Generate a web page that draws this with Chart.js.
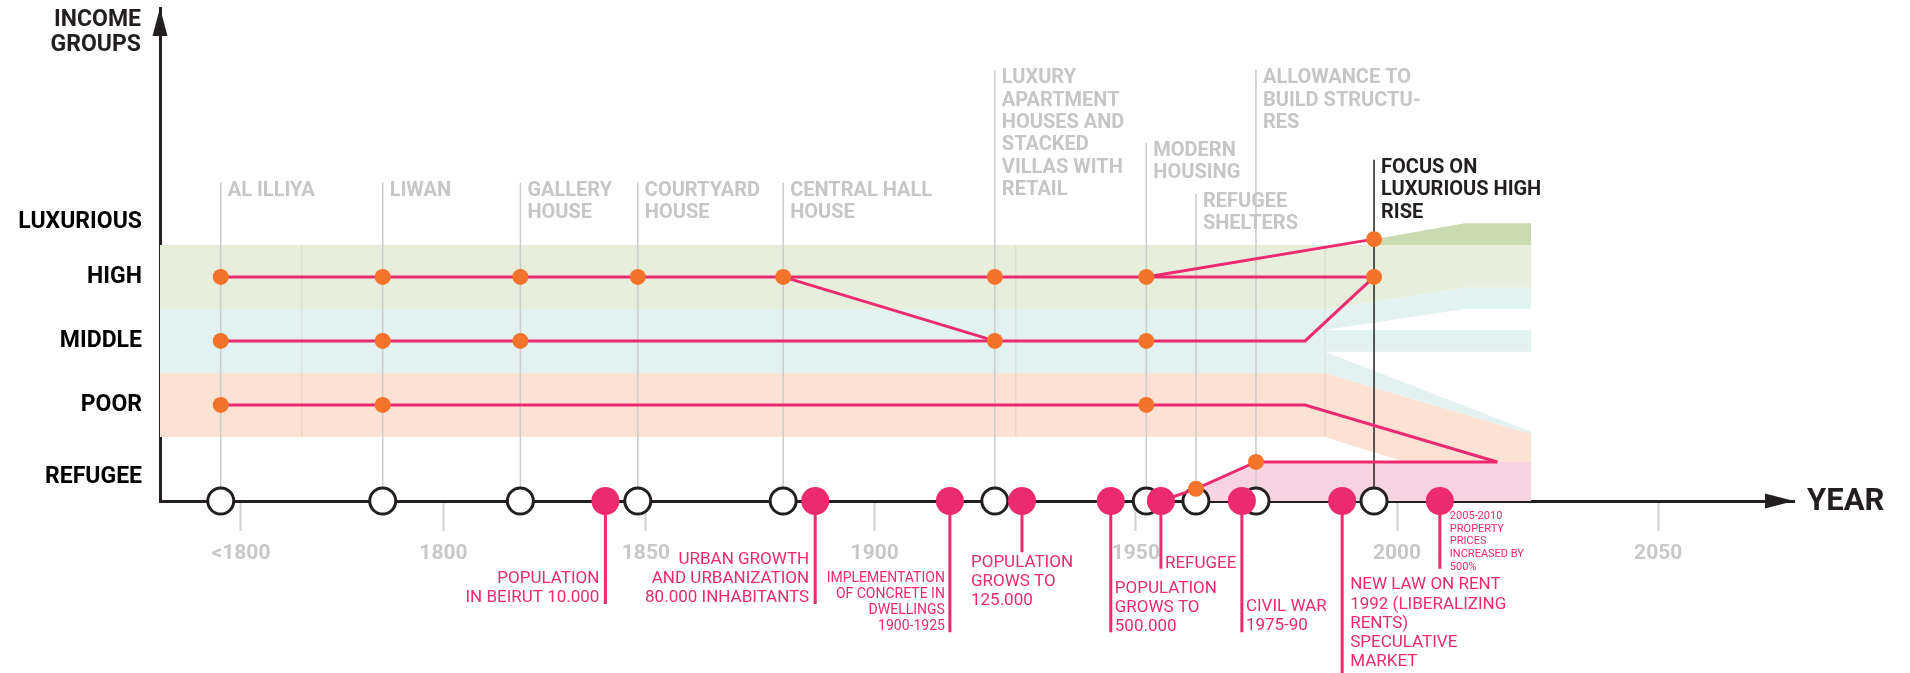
<!DOCTYPE html>
<html>
<head>
<meta charset="utf-8">
<script src="https://cdn.jsdelivr.net/npm/chart.js@4.4.1/dist/chart.umd.min.js"></script>
<style>
  html, body { margin: 0; padding: 0; background: #fff; }
  #wrap { width: 1910px; height: 673px; position: relative; }
</style>
</head>
<body>
<div id="wrap"><canvas id="myChart"></canvas></div>
<script>
// timeline ticks
const tickYears = [1750, 1800, 1850, 1900, 1950, 2000, 2050];
const tickLabels = ['<1800', '1800', '1850', '1900', '1950', '2000', '2050'];

// income groups on the y axis
const groupNames = ['REFUGEE', 'POOR', 'MIDDLE', 'HIGH', 'LUXURIOUS'];
const groupLevels = [0.375, 1.5, 2.5, 3.5, 4.36];

// housing types (open circles)
const housingYears = [1745, 1785, 1819, 1848, 1880, 1923, 1952, 1961.5, 1973];
const housingNames = [
    ['AL ILLIYA'], ['LIWAN'], ['GALLERY', 'HOUSE'], ['COURTYARD', 'HOUSE'], ['CENTRAL HALL', 'HOUSE'],
    ['LUXURY', 'APARTMENT', 'HOUSES AND', 'STACKED', 'VILLAS WITH', 'RETAIL'],
    ['MODERN', 'HOUSING'], ['REFUGEE', 'SHELTERS'], ['ALLOWANCE TO', 'BUILD STRUCTU-', 'RES']
];
const housingTop = [4.97, 4.97, 4.97, 4.97, 4.97, 6.73, 5.59, 4.8, 6.73];
const focusYear = 1995.6;
const focusName = ['FOCUS ON', 'LUXURIOUS HIGH', 'RISE'];
const focusTop = 5.33;

// events (pink circles)
const eventYears = [1840, 1887, 1914.4, 1928.2, 1945.2, 1954.8, 1970.3, 1989.5, 2008.2];
const eventNames = [
    ['POPULATION', 'IN BEIRUT 10.000'],
    ['URBAN GROWTH', 'AND URBANIZATION', '80.000 INHABITANTS'],
    ['IMPLEMENTATION', 'OF CONCRETE IN', 'DWELLINGS', '1900-1925'],
    ['POPULATION', 'GROWS TO', '125.000'],
    ['POPULATION', 'GROWS TO', '500.000'],
    ['REFUGEE'],
    ['CIVIL WAR', '1975-90'],
    ['NEW LAW ON RENT', '1992 (LIBERALIZING', 'RENTS)', 'SPECULATIVE', 'MARKET'],
    ['2005-2010', 'PROPERTY', 'PRICES', 'INCREASED BY', '500%']
];
const eventStemEnd = [-1.61, -1.61, -2.05, -0.8, -2.05, -1.06, -2.05, -2.8, -1.06];

// income group paths
const highX = [1745, 1785, 1819, 1848, 1880, 1923, 1952, 1995.6];
const highY = [3.5, 3.5, 3.5, 3.5, 3.5, 3.5, 3.5, 3.5];
const dropX = [1880, 1923];
const dropY = [3.5, 2.5];
const middleX = [1745, 1785, 1819, 1923, 1952, 1982.4, 1995.6];
const middleY = [2.5, 2.5, 2.5, 2.5, 2.5, 2.5, 3.5];
const poorX = [1745, 1785, 1952, 1982.4, 2019.2];
const poorY = [1.5, 1.5, 1.5, 1.5, 0.61];
const luxX = [1952, 1995.6];
const luxY = [3.5, 4.09];
const refugeeX = [1954.8, 1961.5, 1973, 2019.2];
const refugeeY = [0, 0.19, 0.61, 0.61];

// orange dots
const dotX = [1745, 1785, 1819, 1848, 1880, 1923, 1952, 1995.6,
    1745, 1785, 1819, 1923, 1952, 1745, 1785, 1952, 1995.6, 1961.5, 1973];
const dotY = [3.5, 3.5, 3.5, 3.5, 3.5, 3.5, 3.5, 3.5,
    2.5, 2.5, 2.5, 2.5, 2.5, 1.5, 1.5, 1.5, 4.09, 0.19, 0.61];

// band outlines
const greenX = [1730, 1986.2, 2013, 2025.7];
const greenTop = [4, 4, 4, 4];
const greenBottom = [3, 3, 3.33, 3.33];
const luxBandX = [1995.6, 2013, 2025.7];
const luxBandTop = [4.09, 4.34, 4.34];
const luxBandBottom = [4, 4, 4];
const blueX = [1730, 1986.2];
const blueTop = [3, 3];
const blueBottom = [2, 2];
const blueUpX = [1986.2, 2013, 2025.7];
const blueUpTop = [3, 3.33, 3.33];
const blueUpBottom = [2.67, 3, 3];
const blueMidX = [1986.2, 2025.7];
const blueMidTop = [2.67, 2.67];
const blueMidBottom = [2.33, 2.33];
const blueLowX = [1986.2, 2025.7];
const blueLowTop = [2.33, 1.08];
const blueLowBottom = [2, 1.05];
const orangeX = [1730, 1986.2, 2001.5, 2025.7];
const orangeTop = [2, 2, 1.63, 1.05];
const orangeBottom = [1, 1, 0.61, 0.61];
const pinkX = [1961.5, 1973, 2025.7];
const pinkTop = [0.19, 0.61, 0.61];
const dividerYears = [1765, 1927, 1986.2];

// layout
const axisYears = [1730, 2076];
const tickGaps = [1, 1, 1.13, 1.29, 1.29, 1.29]; // relative width of each tick interval
const eventLabelLayout = [
    { align: 'right', dx: -6, dy: 78, size: 17, lh: 19 },
    { align: 'right', dx: -6, dy: 59, size: 17, lh: 19 },
    { align: 'right', dx: -5, dy: 77, size: 14, lh: 16 },
    { align: 'left', dx: -51, dy: 62, size: 17, lh: 19 },
    { align: 'left', dx: 4, dy: 88, size: 17, lh: 19 },
    { align: 'left', dx: 4, dy: 63, size: 17, lh: 19 },
    { align: 'left', dx: 4, dy: 106, size: 17, lh: 18.5 },
    { align: 'left', dx: 8, dy: 84, size: 17, lh: 19.3 },
    { align: 'left', dx: 10, dy: 15, size: 11, lh: 12.8 }
];

const ink = '#231f20';
const pink = '#ec2a70';
const orange = '#f3732a';
const grey = '#c6c6c6';

function yearToPos(yr) {
    let i = 0;
    while (i < tickGaps.length - 1 && yr > tickYears[i + 1]) i++;
    let p = 0;
    for (let k = 0; k < i; k++) p += tickGaps[k];
    return p + (yr - tickYears[i]) / (tickYears[i + 1] - tickYears[i]) * tickGaps[i];
}

function pts(xs, ys) {
    return xs.map((x, i) => ({ x: yearToPos(x), y: ys[i] }));
}

function band(xs, top, bottom, color) {
    return [
        { data: pts(xs, top), fill: '+1', backgroundColor: color, borderWidth: 0, pointRadius: 0, order: 10 },
        { data: pts(xs, bottom), fill: false, borderWidth: 0, pointRadius: 0, order: 10 }
    ];
}

function path(xs, ys) {
    return { data: pts(xs, ys), borderColor: pink, borderWidth: 3, pointRadius: 0, fill: false, order: 4 };
}

function verticals(xs, from, to) {
    const out = [];
    xs.forEach((x, i) => {
        out.push({ x: yearToPos(x), y: from }, { x: yearToPos(x), y: Array.isArray(to) ? to[i] : to }, { x: yearToPos(x), y: null });
    });
    return out;
}

const datasets = [
    ...band(greenX, greenTop, greenBottom, '#e7eedb'),
    ...band(luxBandX, luxBandTop, luxBandBottom, '#cbdbb0'),
    ...band(blueX, blueTop, blueBottom, '#e2f2f1'),
    ...band(blueUpX, blueUpTop, blueUpBottom, '#e2f2f1'),
    ...band(blueMidX, blueMidTop, blueMidBottom, '#e2f2f1'),
    ...band(blueLowX, blueLowTop, blueLowBottom, '#e2f2f1'),
    ...band(orangeX, orangeTop, orangeBottom, '#fbe2d4'),
    { data: pts(pinkX, pinkTop), fill: 'origin', backgroundColor: '#f8d3e1', borderWidth: 0, pointRadius: 0, order: 10 },
    // faint band dividers
    { data: verticals(dividerYears, 1, 4), borderColor: 'rgba(150,140,110,0.12)', borderWidth: 1.5, pointRadius: 0, fill: false, order: 9 },
    // grey guide lines
    { data: verticals(housingYears, 0, housingTop), borderColor: '#cccccc', borderWidth: 1.5, pointRadius: 0, fill: false, order: 8 },
    { data: verticals([focusYear], 0, focusTop), borderColor: ink, borderWidth: 1.5, pointRadius: 0, fill: false, order: 7 },
    // pink stems
    { data: verticals(eventYears, 0, eventStemEnd), borderColor: pink, borderWidth: 3, pointRadius: 0, fill: false, order: 6 },
    // open circles
    { data: pts(housingYears.concat([focusYear]), housingYears.concat([focusYear]).map(() => 0)), showLine: false,
      pointRadius: 13, pointBackgroundColor: '#ffffff', pointBorderColor: ink, pointBorderWidth: 3, order: 5 },
    path(highX, highY), path(dropX, dropY), path(middleX, middleY), path(poorX, poorY),
    path(luxX, luxY), path(refugeeX, refugeeY),
    // orange dots
    { data: pts(dotX, dotY), showLine: false, pointRadius: 8, pointBackgroundColor: orange, pointBorderWidth: 0, order: 3 },
    // pink event circles
    { data: pts(eventYears, eventYears.map(() => 0)), showLine: false, pointRadius: 14,
      pointBackgroundColor: pink, pointBorderWidth: 0, order: 2 }
];
datasets.forEach(d => { d.clip = false; d.tension = 0; });

const annotate = {
    id: 'annotate',
    afterDraw(chart) {
        const ctx = chart.ctx, xs = chart.scales.x, ys = chart.scales.y, a = chart.chartArea;
        ctx.save();
        ctx.fillStyle = ink;
        // arrows
        ctx.beginPath();
        ctx.moveTo(a.left, a.top);
        ctx.lineTo(a.left - 7.5, a.top + 28);
        ctx.lineTo(a.left + 7.5, a.top + 28);
        ctx.closePath();
        ctx.fill();
        ctx.beginPath();
        ctx.moveTo(a.right, a.bottom);
        ctx.lineTo(a.right - 29, a.bottom - 7.5);
        ctx.lineTo(a.right - 29, a.bottom + 7.5);
        ctx.closePath();
        ctx.fill();
        // axis titles
        ctx.textBaseline = 'middle';
        ctx.font = 'bold 23px Roboto';
        ctx.textAlign = 'right';
        ctx.fillText('INCOME', a.left - 19, 20);
        ctx.fillText('GROUPS', a.left - 19, 45);
        ctx.font = 'bold 31px Roboto';
        ctx.textAlign = 'left';
        ctx.fillText('YEAR', a.right + 13, a.bottom + 1);
        // housing labels
        ctx.font = 'bold 20px Roboto';
        const drawHousing = (yr, top, lines, color) => {
            const px = xs.getPixelForValue(yearToPos(yr));
            const py = ys.getPixelForValue(top);
            ctx.fillStyle = color;
            lines.forEach((t, k) => ctx.fillText(t, px + 7, py + 8 + k * 22.4));
        };
        housingYears.forEach((yr, i) => drawHousing(yr, housingTop[i], housingNames[i], grey));
        drawHousing(focusYear, focusTop, focusName, ink);
        // event labels
        ctx.fillStyle = pink;
        eventYears.forEach((yr, i) => {
            const L = eventLabelLayout[i];
            const px = xs.getPixelForValue(yearToPos(yr));
            ctx.font = L.size + 'px Roboto';
            ctx.textAlign = L.align;
            eventNames[i].forEach((t, k) => ctx.fillText(t, px + L.dx, a.bottom + L.dy + k * L.lh));
        });
        ctx.restore();
    }
};

function noScalePadding(s) {
    s.paddingTop = 0; s.paddingBottom = 0; s.paddingLeft = 0; s.paddingRight = 0;
}

const ctx = document.getElementById('myChart').getContext('2d');
const myChart = new Chart(ctx, {
    type: 'line',
    data: { datasets: datasets },
    options: {
        responsive: true,
        maintainAspectRatio: false,
        animation: false,
        events: [],
        layout: { autoPadding: false, padding: { top: 8, right: 116, bottom: 0, left: 0 } },
        plugins: {
            legend: { display: false },
            tooltip: { enabled: false },
            filler: { drawTime: 'beforeDatasetsDraw' }
        },
        scales: {
            x: {
                type: 'linear',
                min: yearToPos(axisYears[0]),
                max: yearToPos(axisYears[1]),
                afterBuildTicks: (s) => { s.ticks = tickYears.map(y => ({ value: yearToPos(y) })); },
                afterFit: (s) => { s.height = 172; noScalePadding(s); },
                border: { display: true, color: ink, width: 3 },
                grid: { drawOnChartArea: false, drawTicks: true, tickLength: 30, tickColor: '#d0d0d0', tickWidth: 2 },
                ticks: {
                    autoSkip: false, maxRotation: 0, padding: 10,
                    color: '#c8c8c8',
                    font: { family: 'Roboto', weight: 'bold', size: 21 },
                    callback: (v, i) => tickLabels[i]
                }
            },
            y: {
                type: 'linear',
                min: 0,
                max: 7.7,
                afterBuildTicks: (s) => { s.ticks = groupLevels.map(v => ({ value: v })); },
                afterFit: (s) => { s.width = 160; noScalePadding(s); },
                border: { display: true, color: ink, width: 3 },
                grid: { display: false, drawTicks: false },
                ticks: {
                    padding: 18,
                    color: '#000000',
                    font: { family: 'Roboto', weight: 'bold', size: 23 },
                    callback: (v, i) => groupNames[i]
                }
            }
        }
    },
    plugins: [annotate]
});
</script>
</body>
</html>
